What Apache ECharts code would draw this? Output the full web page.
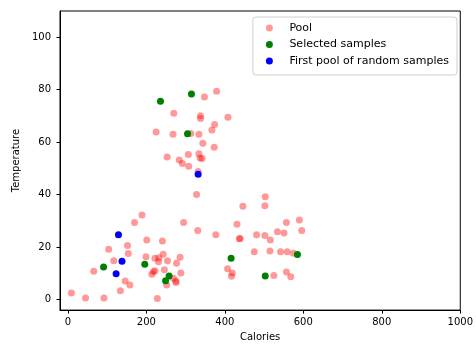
<!DOCTYPE html>
<html>
<head>
<meta charset="utf-8">
<script src="https://cdn.jsdelivr.net/npm/echarts@6/dist/echarts.min.js"></script>
<style>
  html, body { margin: 0; padding: 0; background: #fff; }
  #chart { width: 476px; height: 347px; }
</style>
</head>
<body>
<div id="chart"></div>
<script>
// 数据
var poolPoints = [
  [379, 79.4], [348, 77.2], [270, 71.0], [338, 70.1], [338, 69.0], [408, 69.5],
  [374, 66.7], [367, 64.6], [225, 63.9], [268, 63.0], [313, 63.3], [334, 63.0],
  [344, 59.6], [373, 58.1], [253, 54.4], [307, 55.3], [334, 55.6], [337, 54.0],
  [342, 53.8], [284, 53.2], [292, 51.9], [308, 50.8], [332, 48.8], [328, 40.1],
  [295, 29.4], [331, 26.3], [377, 24.7],
  [9, 2.5], [45, 0.6], [92, 0.6], [228, 0.4], [134, 3.4], [146, 7.1], [158, 5.6],
  [66, 10.8], [104, 19.2], [117, 14.8], [152, 20.6], [154, 17.6], [170, 29.4],
  [189, 32.2], [201, 22.7], [199, 16.3], [241, 22.3], [222, 15.8], [232, 16.0],
  [231, 14.4], [243, 17.3], [254, 14.8], [286, 16.1], [277, 13.9], [288, 10.1],
  [246, 11.4], [222, 11.0], [214, 9.7], [218, 10.6], [269, 8.1], [275, 7.1],
  [276, 6.5], [252, 5.6],
  [503, 39.2], [502, 35.8], [446, 35.6], [431, 28.7], [437, 23.2], [439, 23.3],
  [481, 24.7], [502, 24.4], [516, 22.7], [534, 25.9], [551, 25.4], [557, 29.4],
  [590, 30.3], [596, 26.3], [475, 18.2], [515, 18.5], [542, 18.2], [559, 18.2],
  [575, 17.7], [407, 11.8], [419, 10.1], [417, 8.9], [525, 9.2], [557, 10.5],
  [568, 8.7]
];
var selectedPoints = [
  [236, 75.6], [315, 78.4], [305, 63.2], [91, 12.4], [196, 13.5],
  [258, 9.0], [249, 7.2], [416, 15.8], [503, 9.0], [585, 17.2]
];
var firstPoolPoints = [
  [129, 24.7], [138, 14.6], [123, 9.9], [332, 47.8]
];
var seriesNames = ['Pool', 'Selected samples', 'First pool of random samples'];
var xTicks = [0, 200, 400, 600, 800, 1000];
var yTicks = [0, 20, 40, 60, 80, 100];

var font = 'DejaVu Sans';
var myChart = echarts.init(document.getElementById('chart'));

function axisCommon() {
    return {
        type: 'value',
        splitLine: { show: false },
        axisLine: { show: true, onZero: false, lineStyle: { color: '#000', width: 1 } },
        axisTick: { show: true, inside: false, length: 3.5, lineStyle: { color: '#000' } },
        nameLocation: 'middle',
        nameTextStyle: { color: '#000', fontFamily: font, fontSize: 10 }
    };
}

function plain(v) { return String(v); }

var xAxis = axisCommon();
xAxis.min = -20;
xAxis.max = 1000;
xAxis.name = 'Calories';
xAxis.nameGap = 21;
xAxis.axisTick.customValues = xTicks;
xAxis.axisLabel = { customValues: xTicks, formatter: plain, margin: 7, color: '#000', fontFamily: font, fontSize: 10 };

var yAxis = axisCommon();
yAxis.min = -4;
yAxis.max = 110;
yAxis.name = 'Temperature';
yAxis.nameGap = 36;
yAxis.axisTick.customValues = yTicks;
yAxis.axisLabel = { customValues: yTicks, formatter: plain, margin: 9, color: '#000', fontFamily: font, fontSize: 10 };

var option = {
    animation: false,
    backgroundColor: '#fff',
    textStyle: { fontFamily: font },
    grid: {
        left: 60, right: 14, top: 11, bottom: 36,
        show: true, borderColor: '#000', borderWidth: 1
    },
    legend: {
        data: seriesNames,
        orient: 'vertical',
        right: 19,
        top: 17,
        icon: 'circle',
        itemWidth: 30,
        itemHeight: 7,
        itemGap: 4.5,
        padding: [5, 8, 8, 13],
        borderColor: '#d0d0d0',
        borderWidth: 1,
        borderRadius: 3,
        backgroundColor: 'rgba(255,255,255,0.8)',
        textStyle: { color: '#000', fontFamily: font, fontSize: 11, lineHeight: 12 }
    },
    xAxis: xAxis,
    yAxis: yAxis,
    series: [
        {
            name: seriesNames[0], type: 'scatter', data: poolPoints, symbolSize: 7,
            itemStyle: { color: '#ff0000', opacity: 0.4 },
            emphasis: { disabled: true }
        },
        {
            name: seriesNames[1], type: 'scatter', data: selectedPoints, symbolSize: 7,
            itemStyle: { color: '#008000', opacity: 1 },
            emphasis: { disabled: true }
        },
        {
            name: seriesNames[2], type: 'scatter', data: firstPoolPoints, symbolSize: 7,
            itemStyle: { color: '#0000ff', opacity: 1 },
            emphasis: { disabled: true }
        }
    ]
};
myChart.setOption(option);
</script>
</body>
</html>
